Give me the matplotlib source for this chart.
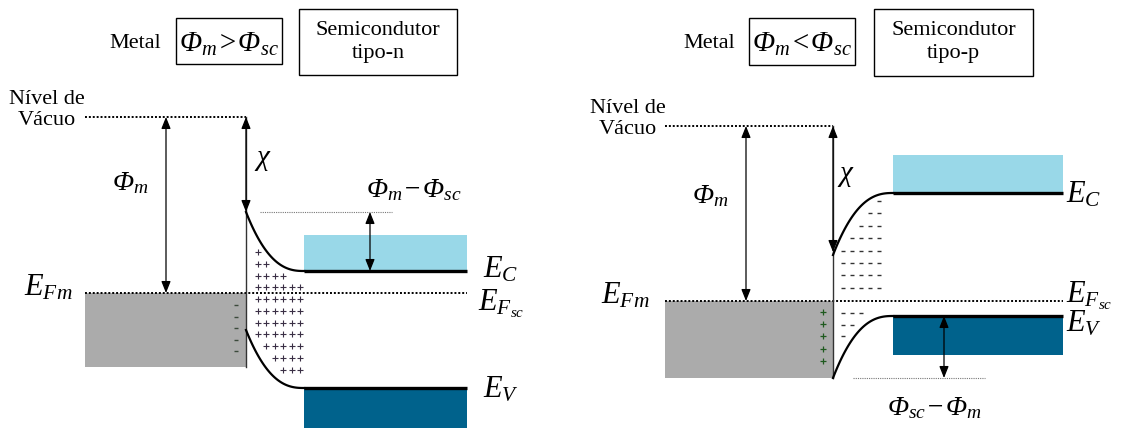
import numpy as np
import matplotlib
matplotlib.use("Agg")
import matplotlib.pyplot as plt
from matplotlib.patches import Rectangle

plt.rcParams["font.family"] = ["Liberation Serif", "DejaVu Serif"]
plt.rcParams["mathtext.fontset"] = "custom"
plt.rcParams["mathtext.rm"] = "Liberation Serif:italic"
plt.rcParams["mathtext.it"] = "Liberation Serif:italic"
plt.rcParams["mathtext.bf"] = "Liberation Serif:bold"

# band levels (drawing units, y grows downward) for the two junctions
# order: vacuum, E_F, metal bottom, Ec top fill, Ec, Ev, Ev bottom fill, Ec at interface, Ev at interface
levels_n = [117, 293, 367, 235, 271, 388, 428, 212, 330]
levels_p = [126, 301, 378, 155, 193, 316, 355, 255, 378]
# x extents: metal left, interface, band start, band end, Phi_m arrow
xs_n = [85, 246, 304, 467, 166]
xs_p = [665, 833, 893, 1063, 746]

# space charge rows: (start column, count)
plus_rows_n = [(0, 1), (0, 2), (0, 4), (0, 6), (0, 6), (0, 6), (0, 6), (0, 6), (1, 5), (2, 4), (3, 3)]
minus_rows_p_top = [(4, 1), (3, 2), (2, 3), (1, 4), (0, 5), (0, 5), (0, 5), (0, 5)]
minus_rows_p_bot = [(0, 3), (0, 2), (0, 1)]
metal_charges = 5

c_light = "#99d8e8"
c_dark = "#00628c"
c_metal = "#ababab"


def bend(x0, y0, x1, y1, p=2.5):
    t = np.linspace(0, 1, 80)
    return x0 + t * (x1 - x0), y1 + (y0 - y1) * (1 - t) ** p


def arrow(ax, x, y0, y1, style="<|-|>"):
    ax.annotate("", xy=(x, y1), xytext=(x, y0),
                arrowprops=dict(arrowstyle=style + ",head_length=0.7,head_width=0.28",
                                color="black", lw=0.9, shrinkA=0, shrinkB=0))


def junction(ax, lv, xs, chi_end):
    vac, ef, mb, ect, ec, ev, evb, ec0, ev0 = lv
    xm, xi, xb0, xb1, xphi = xs
    ax.add_patch(Rectangle((xm, ef), xi - xm, mb - ef, color=c_metal, lw=0))
    ax.add_patch(Rectangle((xb0, ect), xb1 - xb0, ec - ect, color=c_light, lw=0))
    ax.add_patch(Rectangle((xb0, ev), xb1 - xb0, evb - ev, color=c_dark, lw=0))
    ax.plot([xm, xi], [vac, vac], color="black", lw=1.4, ls=(0, (1, 1)))
    ax.plot([xm, xb1], [ef, ef], color="black", lw=1.4, ls=(0, (1, 1)))
    ax.plot([xi, xi], [vac, mb], color="#333333", lw=1.0)
    arrow(ax, xphi, vac, ef)
    arrow(ax, xi, vac, chi_end)
    for y0, y1 in [(ec0, ec), (ev0, ev)]:
        bx, by = bend(xi, y0, xb0, y1)
        ax.plot(bx, by, color="black", lw=1.6)
        ax.plot([xb0, xb1], [y1, y1], color="black", lw=2.4, solid_capstyle="butt")


fig = plt.figure(figsize=(11.22, 4.28), dpi=100)
ax = fig.add_axes([0, 0, 1, 1])
ax.set_xlim(0, 1122)
ax.set_ylim(428, 0)
ax.axis("off")

junction(ax, levels_n, xs_n, levels_n[7])
junction(ax, levels_p, xs_p, 252)

# Phi_m - Phi_sc on the n side, Phi_sc - Phi_m on the p side
ax.plot([260, 392], [levels_n[7]] * 2, color="#777777", lw=0.8, ls=(0, (1, 1)))
arrow(ax, 370, levels_n[7], levels_n[4])
ax.plot([853, 985], [levels_p[2]] * 2, color="#777777", lw=0.8, ls=(0, (1, 1)))
arrow(ax, 944, levels_p[5], levels_p[2])

# depletion charges
for i, (c0, n) in enumerate(plus_rows_n):
    cx = 258 + 8.5 * np.arange(c0, c0 + n)
    ax.plot(cx, np.full(n, 252 + 11.75 * i), ls="none", marker="+", ms=5, mew=0.8, color="#3a2f45")
ax.plot(np.full(metal_charges, 236), 305 + 11.5 * np.arange(metal_charges), ls="none",
        marker="_", ms=2.5, mew=1.0, color="#3b4a3b")
for i, (c0, n) in enumerate(minus_rows_p_top):
    cx = 843 + 9 * np.arange(c0, c0 + n)
    ax.plot(cx, np.full(n, 201 + 12.4 * i), ls="none", marker="_", ms=3, mew=1.0, color="#333333")
for i, (c0, n) in enumerate(minus_rows_p_bot):
    cx = 843 + 9 * np.arange(c0, c0 + n)
    ax.plot(cx, np.full(n, 313 + 11.5 * i), ls="none", marker="_", ms=3, mew=1.0, color="#333333")
ax.plot(np.full(metal_charges, 823), 312 + 12.2 * np.arange(metal_charges), ls="none",
        marker="+", ms=5, mew=0.9, color="#1e5a1e")

# headers
for xmetal, box1, box2, rel, kind in [
        (135, (176, 18, 282, 64), (299, 9, 457, 75), ">", "tipo-n"),
        (709, (749, 18, 855, 65), (874, 9, 1033, 76), "<", "tipo-p")]:
    ax.text(xmetal, 43, "Metal", fontsize=16, ha="center", va="center")
    for x0, y0, x1, y1 in [box1, box2]:
        ax.add_patch(Rectangle((x0, y0), x1 - x0, y1 - y0, fill=False, ec="black", lw=1.0))
    ax.text((box1[0] + box1[2]) / 2, 44, r"$\Phi_m\!%s\!\Phi_{sc}$" % rel, fontsize=21,
            ha="center", va="center")
    ax.text((box2[0] + box2[2]) / 2, 42, "Semicondutor\n" + kind, fontsize=16,
            ha="center", va="center", linespacing=1.3)

ax.text(47, 110, "Nível de\nVácuo", fontsize=16, ha="center", va="center", linespacing=1.2)
ax.text(628, 119, "Nível de\nVácuo", fontsize=16, ha="center", va="center", linespacing=1.2)

ef = 22
ax.text(24, 296, r"$E_{Fm}$", fontsize=ef, ha="left", va="baseline")
ax.text(483, 277, r"$E_C$", fontsize=ef, ha="left", va="baseline")
ax.text(478, 310, r"$E_{F_{sc}}$", fontsize=ef, ha="left", va="baseline")
ax.text(483, 398, r"$E_V$", fontsize=ef, ha="left", va="baseline")
ax.text(601, 303, r"$E_{Fm}$", fontsize=ef, ha="left", va="baseline")
ax.text(1066, 202, r"$E_C$", fontsize=ef, ha="left", va="baseline")
ax.text(1066, 302, r"$E_{F_{sc}}$", fontsize=ef, ha="left", va="baseline")
ax.text(1066, 332, r"$E_V$", fontsize=ef, ha="left", va="baseline")

ax.text(112, 183, r"$\Phi_m$", fontsize=20, ha="left", va="center")
ax.text(692, 196, r"$\Phi_m$", fontsize=20, ha="left", va="center")
ax.text(254, 160, r"$\chi$", fontsize=21, ha="left", va="center")
ax.text(837, 176, r"$\chi$", fontsize=21, ha="left", va="center")
ax.text(366, 190, r"$\Phi_m\!-\!\Phi_{sc}$", fontsize=20, ha="left", va="center")
ax.text(887, 408, r"$\Phi_{sc}\!-\!\Phi_m$", fontsize=20, ha="left", va="center")

fig.savefig("out.png", dpi=100)
